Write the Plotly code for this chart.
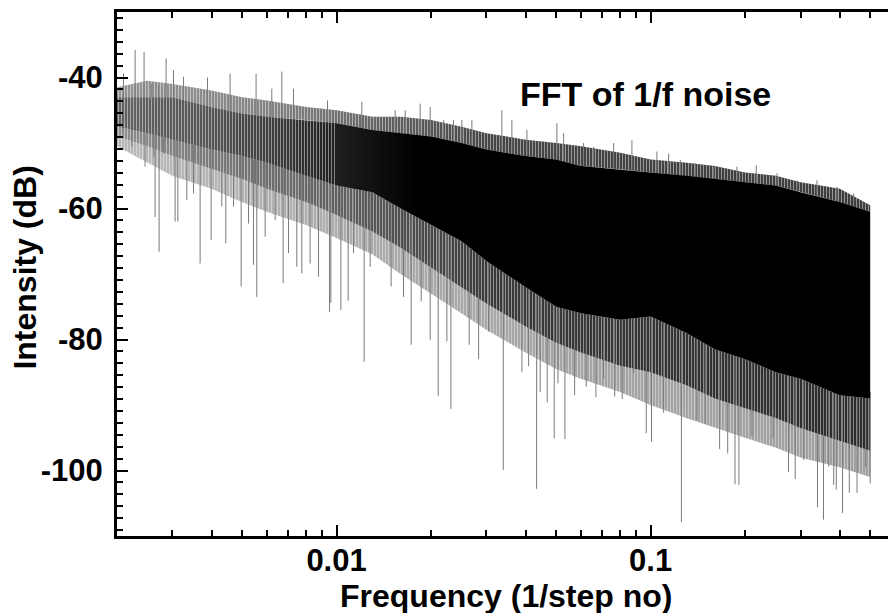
import math
import plotly.graph_objects as go

# ---------------- data ----------------
# envelope of the dense FFT spectrum (frequency in 1/step no, intensity in dB)
env_f = [0.002, 0.0025, 0.003, 0.004, 0.005, 0.006, 0.008, 0.01, 0.013, 0.016,
         0.02, 0.025, 0.03, 0.04, 0.05, 0.06, 0.08, 0.1, 0.13, 0.16,
         0.2, 0.25, 0.3, 0.4, 0.5]
top_db = [-41.5, -40.5, -41.0, -42.0, -43.0, -43.5, -44.5, -45.0, -46.0, -46.0,
          -46.5, -47.5, -48.5, -49.5, -50.0, -50.5, -51.5, -52.5, -53.0, -53.5,
          -54.5, -55.0, -56.0, -57.0, -59.5]
core_top_db = [-43.0, -43.0, -43.0, -44.5, -45.5, -46.0, -46.5, -47.0, -48.0, -48.5,
               -49.0, -50.0, -51.0, -52.0, -52.5, -53.5, -54.0, -54.5, -55.0, -55.5,
               -56.0, -56.5, -57.5, -59.0, -60.5]
core_bot_db = [-47.5, -48.5, -49.5, -51.0, -52.0, -53.0, -55.0, -56.5, -57.5, -60.0,
               -62.5, -65.0, -68.0, -72.0, -75.0, -76.0, -77.0, -76.5, -79.0, -81.5,
               -83.0, -85.0, -86.0, -88.5, -89.0]
dense_bot_db = [-49.0, -50.5, -52.0, -54.0, -55.5, -57.0, -59.0, -61.0, -63.5, -66.0,
                -69.0, -72.0, -74.5, -78.0, -80.5, -82.0, -84.0, -85.0, -87.0, -89.0,
                -90.5, -92.0, -93.5, -95.5, -97.0]
sparse_bot_db = [-50.5, -53.0, -55.0, -57.0, -59.0, -60.5, -62.5, -64.5, -67.0, -70.0,
                 -73.0, -76.0, -78.5, -82.0, -84.5, -86.0, -88.0, -90.0, -92.0, -93.5,
                 -95.0, -96.5, -98.0, -99.5, -101.0]

# isolated upward peaks: frequency, tip value, neighbouring value
peak_f = [0.002098, 0.002284, 0.002439, 0.00258, 0.00271, 0.002867, 0.003027, 0.003257,
          0.003883, 0.004582, 0.005544, 0.006221, 0.006694, 0.007296, 0.00936, 0.012036,
          0.01537, 0.01654, 0.01846, 0.01987, 0.02192, 0.02358, 0.02506, 0.02697,
          0.0336, 0.03616, 0.04037, 0.0503, 0.05284, 0.06117, 0.06585, 0.07624,
          0.08717, 0.1047, 0.1141, 0.1243, 0.1387, 0.1587, 0.1883, 0.2169,
          0.2525, 0.2923, 0.3385, 0.392, 0.4431]
peak_db = [-39.4, -35.8, -36.1, -40.9, -41.2, -37.1, -38.9, -39.9,
           -40.0, -39.4, -39.4, -41.7, -39.1, -41.7, -43.5, -43.7,
           -45.0, -45.0, -44.0, -44.5, -46.5, -46.5, -46.5, -46.5,
           -45.0, -46.5, -48.0, -47.0, -48.5, -50.0, -50.6, -50.0,
           -49.6, -51.3, -51.6, -52.6, -53.1, -53.6, -53.6, -53.4,
           -54.6, -55.7, -55.7, -56.7, -57.7]
peak_base_db = [-44, -44, -45, -45, -45, -45, -45, -46,
                -46, -47, -47, -48, -48, -48, -49, -50,
                -50, -50, -50, -51, -51, -51, -52, -52,
                -53, -53, -54, -54, -55, -55, -55, -56,
                -56, -56, -56, -57, -57, -57, -58, -58,
                -58, -59, -59, -60, -61]

# isolated downward dips: frequency, tip value, neighbouring value
dip_f = [0.002087, 0.002229, 0.002457, 0.00262, 0.002644, 0.002723, 0.002812, 0.003062,
         0.003124, 0.003337, 0.003505, 0.003678, 0.003987, 0.004311, 0.00444, 0.004699,
         0.004969, 0.005245, 0.00544, 0.005572, 0.005924, 0.006374, 0.00676, 0.007032,
         0.007473, 0.007752, 0.008238, 0.008763, 0.009499, 0.00959, 0.010321, 0.010887,
         0.011325, 0.012244, 0.012796, 0.01492, 0.01634, 0.01728, 0.0186, 0.01987,
         0.02107, 0.02245, 0.02312, 0.02644, 0.02833, 0.03049, 0.03394, 0.03892,
         0.04088, 0.04335, 0.0445, 0.04685, 0.04932, 0.05068, 0.05335, 0.05728,
         0.06236, 0.06695, 0.07085, 0.07681, 0.08121, 0.08829, 0.09683, 0.1006,
         0.11, 0.1253, 0.1405, 0.1492, 0.1658, 0.1759, 0.1856, 0.191,
         0.2101, 0.2453, 0.2748, 0.2886, 0.3071, 0.3398, 0.355, 0.3689,
         0.3826, 0.39, 0.4082, 0.429, 0.4539, 0.4839, 0.5]
dip_db = [-48.5, -50.6, -53.6, -52.1, -61.3, -66.6, -51.6, -62.0,
          -62.0, -58.7, -57.7, -68.4, -64.8, -59.7, -65.3, -59.7,
          -71.9, -62.3, -68.6, -73.5, -64.3, -61.8, -71.4, -66.8,
          -68.9, -69.9, -68.4, -70.4, -75.8, -74.4, -75.5, -74.1,
          -66.8, -83.4, -68.9, -71.9, -73.5, -80.8, -74.2, -80.1,
          -88.6, -80.3, -90.6, -80.8, -83.0, -78.8, -99.9, -85.0,
          -84.1, -102.8, -88.0, -89.6, -95.1, -86.7, -95.2, -88.5,
          -87.2, -88.8, -86.0, -88.7, -89.1, -85.1, -94.3, -95.6,
          -91.2, -107.9, -92.3, -92.8, -96.7, -97.4, -102.1, -102.2,
          -94.8, -95.1, -100.2, -101.3, -98.4, -105.6, -107.5, -99.4,
          -102.2, -102.9, -106.5, -103.4, -103.4, -99.5, -102.0]
dip_base_db = [-45, -45, -45, -46, -46, -46, -46, -46,
               -46, -47, -47, -47, -48, -48, -48, -49,
               -49, -49, -50, -50, -50, -51, -51, -51,
               -52, -52, -52, -53, -53, -53, -54, -54,
               -54, -55, -55, -56, -57, -57, -58, -58,
               -59, -59, -60, -61, -62, -63, -64, -66,
               -67, -68, -68, -69, -70, -70, -71, -72,
               -72, -73, -73, -74, -74, -74, -74, -74,
               -75, -76, -78, -79, -80, -80, -81, -81,
               -82, -83, -84, -84, -85, -85, -86, -86,
               -87, -87, -87, -88, -88, -88, -88]

x_tick_vals = [0.01, 0.1]
x_tick_text = ["0.01", "0.1"]
x_minor_vals = [0.002, 0.003, 0.004, 0.005, 0.006, 0.007, 0.008, 0.009,
                0.02, 0.03, 0.04, 0.05, 0.06, 0.07, 0.08, 0.09,
                0.2, 0.3, 0.4, 0.5]
y_tick_vals = [-40, -60, -80, -100]
y_tick_text = ["-40", "-60", "-80", "-100"]

# ---------------- styling ----------------
FONT = "Liberation Sans, Arial, sans-serif"
CLEAR = "rgba(0,0,0,0)"


def band(upper, lower, scale, i0=0, i1=None):
    fs = env_f[i0:i1]
    up = upper[i0:i1]
    lo = lower[i0:i1]
    return go.Scatter(
        x=fs + fs[::-1], y=up + lo[::-1],
        mode="lines", line=dict(width=0), fill="toself",
        fillgradient=dict(type="horizontal", colorscale=scale),
        hoverinfo="skip", showlegend=False)


def streaks(upper, lower, solidity, size=3, color="white", i0=0, i1=None):
    fs = env_f[i0:i1]
    up = upper[i0:i1]
    lo = lower[i0:i1]
    return go.Scatter(
        x=fs + fs[::-1], y=up + lo[::-1],
        mode="lines", line=dict(width=0), fill="toself", fillcolor=CLEAR,
        fillpattern=dict(shape="|", size=size, solidity=solidity,
                         fgcolor=color, bgcolor=CLEAR),
        hoverinfo="skip", showlegend=False)


def spikes(fs, ends_a, ends_b, color):
    xs, ys = [], []
    for f, a, b in zip(fs, ends_a, ends_b):
        xs += [f, f, None]
        ys += [a, b, None]
    return go.Scatter(x=xs, y=ys, mode="lines",
                      line=dict(color=color, width=1),
                      hoverinfo="skip", showlegend=False)


fig = go.Figure()
# outer sparse fringe below the mass
fig.add_trace(band(dense_bot_db, sparse_bot_db,
                   [[0, "#a8a8a8"], [0.4, "#949494"], [1, "#888888"]]))
fig.add_trace(streaks(dense_bot_db, sparse_bot_db, 0.6, 3))
# mixed dark fringe below the mass
fig.add_trace(band(core_bot_db, dense_bot_db,
                   [[0, "#909090"], [0.3, "#5e5e5e"], [0.5, "#3a3a3a"], [1, "#2c2c2c"]]))
fig.add_trace(streaks(core_bot_db, dense_bot_db, 0.3, 3))
# upper fringe
fig.add_trace(band(top_db, core_top_db,
                   [[0, "#8a8a8a"], [0.2, "#7a7a7a"], [0.35, "#555555"],
                    [0.5, "#333333"], [1, "#2a2a2a"]]))
fig.add_trace(streaks(top_db, core_top_db, 0.45, 3))
# individual peaks and dips
fig.add_trace(spikes(peak_f, peak_base_db, peak_db, "#7a7a7a"))
fig.add_trace(spikes(dip_f, dip_base_db, dip_db, "#7a7a7a"))
# solid mass
fig.add_trace(band(core_top_db, core_bot_db,
                   [[0, "#646464"], [0.12, "#555555"], [0.2, "#404040"],
                    [0.3, "#1c1c1c"], [0.4, "#000000"], [1, "#000000"]]))
fig.add_trace(streaks(core_top_db, core_bot_db, 0.3, 3, i0=0, i1=8))

x_lo, x_hi = 0.002, 0.5697

fig.update_layout(
    width=888, height=613,
    margin=dict(l=117, r=0, t=12, b=77, pad=0),
    paper_bgcolor="white", plot_bgcolor="white",
    font=dict(family=FONT, color="black"),
    showlegend=False,
    xaxis=dict(
        type="log", range=[math.log10(x_lo), math.log10(x_hi)],
        showgrid=False, zeroline=False,
        showline=True, linecolor="black", linewidth=3, mirror="ticks",
        ticks="inside", ticklen=11, tickwidth=2, tickcolor="black",
        tickmode="array", tickvals=x_tick_vals, ticktext=x_tick_text,
        tickfont=dict(family=FONT, size=31, color="black", weight="bold"),
        ticklabelstandoff=-5,
        minor=dict(tickmode="array", tickvals=x_minor_vals, ticks="inside",
                   ticklen=6, tickwidth=2, tickcolor="black", showgrid=False),
    ),
    yaxis=dict(
        range=[-110, -30],
        showgrid=False, zeroline=False,
        showline=True, linecolor="black", linewidth=3, mirror=False,
        ticks="inside", ticklen=11, tickwidth=2, tickcolor="black",
        tickmode="array", tickvals=y_tick_vals, ticktext=y_tick_text,
        tickfont=dict(family=FONT, size=31, color="black", weight="bold"),
        ticklabelstandoff=5,
        minor=dict(tick0=-40, dtick=20 / 11, ticks="inside",
                   ticklen=6, tickwidth=2, tickcolor="black", showgrid=False),
    ),
    annotations=[
        dict(text="FFT of 1/f noise", xref="paper", yref="paper",
             x=0.5195, y=0.8435, xanchor="left", yanchor="middle",
             showarrow=False,
             font=dict(family=FONT, size=34, color="black", weight="bold")),
        dict(text="Frequency (1/step no)", xref="paper", yref="paper",
             x=0.5051, y=-0.1153, xanchor="center", yanchor="middle",
             showarrow=False,
             font=dict(family=FONT, size=32, color="black", weight="bold")),
        dict(text="Intensity (dB)", xref="paper", yref="paper",
             x=-0.1198, y=0.5115, xanchor="center", yanchor="middle",
             textangle=-90, showarrow=False,
             font=dict(family=FONT, size=32, color="black", weight="bold")),
    ],
)

fig.write_html("out.html")
